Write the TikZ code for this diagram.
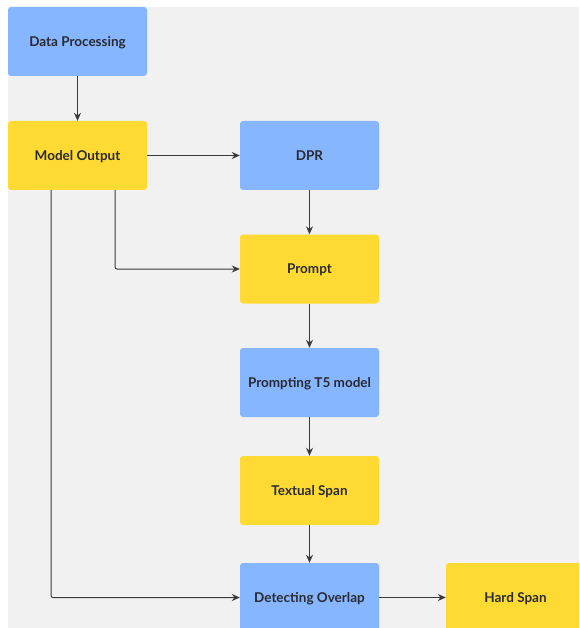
\documentclass[tikz,border=0pt]{standalone}
\usepackage{fontspec}
\setmainfont{Lato}
\usetikzlibrary{arrows.meta}
\definecolor{bgc}{HTML}{F1F1F1}
\definecolor{blueb}{HTML}{85B6FF}
\definecolor{yellb}{HTML}{FFDA33}
\definecolor{txtc}{HTML}{2A2A33}
\definecolor{linec}{HTML}{3A3A3A}
\tikzset{
  box/.style={rounded corners=3pt, minimum width=139pt, minimum height=69pt, inner sep=0pt,
    text height=9.7pt, text depth=0pt,
    font=\fontsize{13.5}{15}\selectfont\bfseries, text=txtc},
  bluebox/.style={box, fill=blueb},
  yellbox/.style={box, fill=yellb},
  conn/.style={draw=linec, line width=1pt, -{Stealth[length=8pt,width=7pt]}, rounded corners=2pt}
}
\begin{document}
\begin{tikzpicture}[x=1pt,y=-1pt]
\useasboundingbox (0,0) rectangle (579,628);
\clip (0,0) rectangle (579,628);
\fill[white] (0,0) rectangle (579,628);
\fill[bgc] (8,7) rectangle (579,628);
\node[bluebox] (dp) at (77.5,41.5) {Data Processing};
\node[yellbox] (mo) at (77.5,155.5) {Model Output};
\node[bluebox] (dpr) at (309.5,155.5) {DPR};
\node[yellbox] (pr) at (309.5,269) {Prompt};
\node[bluebox] (t5) at (309.5,382.5) {Prompting T5 model};
\node[yellbox] (ts) at (309.5,490.5) {Textual Span};
\node[bluebox] (do) at (309.5,597.5) {Detecting Overlap};
\node[yellbox] (hs) at (515.5,597.5) {Hard Span};
\draw[conn] (dp) -- (mo);
\draw[conn] (mo) -- (dpr);
\draw[conn] (dpr) -- (pr);
\draw[conn] (pr) -- (t5);
\draw[conn] (t5) -- (ts);
\draw[conn] (ts) -- (do);
\draw[conn] (do) -- (hs);
\draw[conn] ([xshift=37.5pt]mo.south) |- (pr.west);
\draw[conn] ([xshift=-26.5pt]mo.south) |- (do.west);
\end{tikzpicture}
\end{document}
